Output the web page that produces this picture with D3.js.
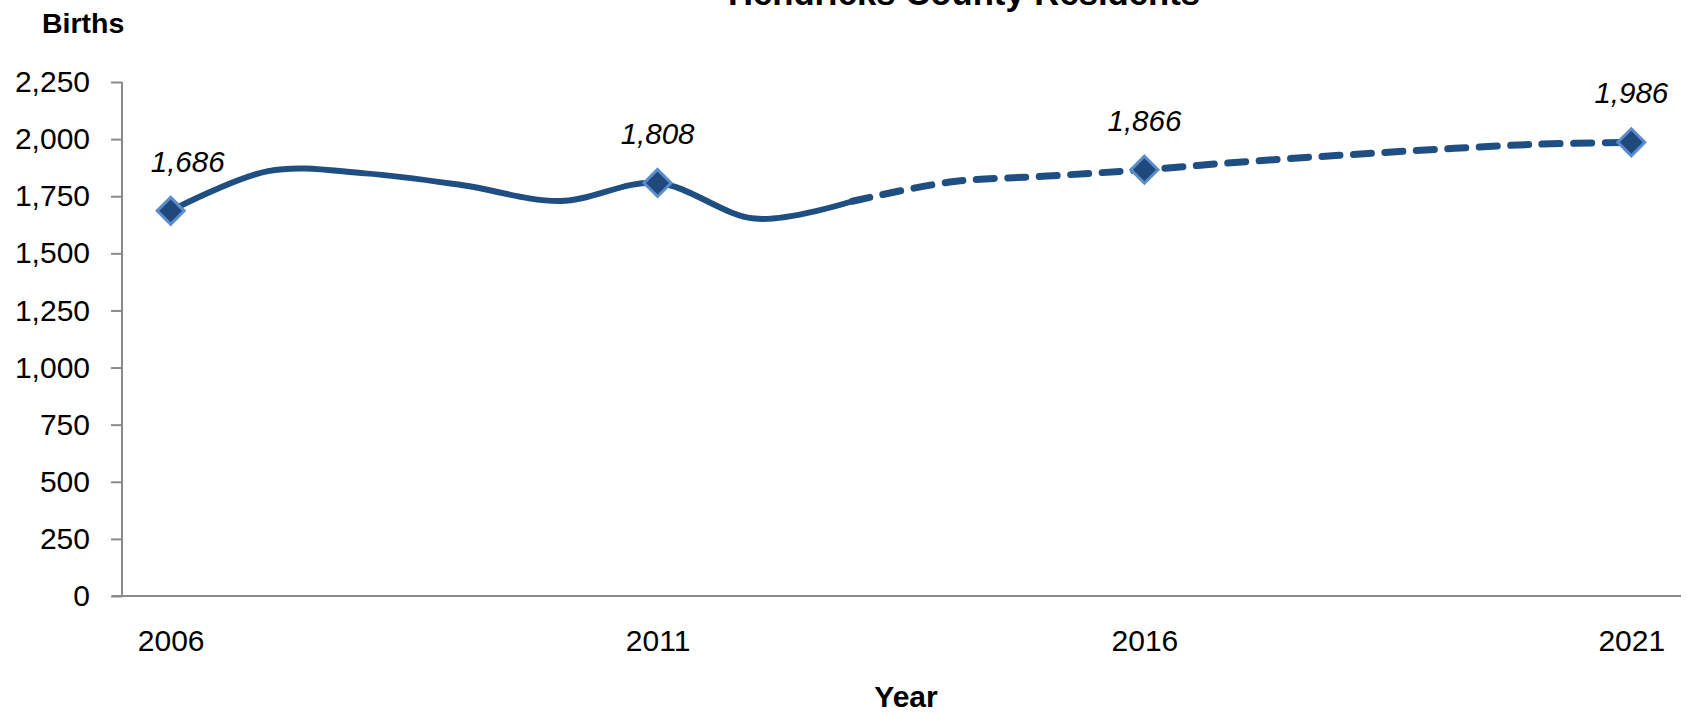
<!DOCTYPE html>
<html>
<head>
<meta charset="utf-8">
<script src="https://cdn.jsdelivr.net/npm/d3@7"></script>
<style>
  html, body { margin: 0; padding: 0; background: #fff; }
  svg { display: block; }
  text { font-family: "Liberation Sans", Arial, sans-serif; fill: #000; }
</style>
</head>
<body>
<svg id="chart" width="1687" height="714"></svg>
<script>
// ---- data ----
const titleText = "Hendricks County Residents";
const yAxisTitle = "Births";
const xAxisTitle = "Year";
const years = ["2006","2007","2008","2009","2010","2011","2012","2013","2014","2015","2016","2017","2018","2019","2020","2021"];
const actualYears = ["2006","2007","2008","2009","2010","2011","2012","2013"];
const actualValues = [1686, 1860, 1850, 1798, 1729, 1808, 1652, 1728];
const projectedYears = ["2013","2014","2015","2016","2017","2018","2019","2020","2021"];
const projectedValues = [1728, 1812, 1838, 1866, 1900, 1929, 1955, 1977, 1986];
const markerYears = ["2006","2011","2016","2021"];
const markerValues = [1686, 1808, 1866, 1986];
const xTickLabels = ["2006","2011","2016","2021"];
const yTickValues = [0, 250, 500, 750, 1000, 1250, 1500, 1750, 2000, 2250];

// ---- layout ----
const svg = d3.select("#chart");
const plotLeft = 122, plotRight = 1680, plotTop = 82, plotBottom = 596;
const lineColor = "#1f4e82";
const markerFill = "#1f497d";
const markerStroke = "#5a8ccc";
const axisColor = "#8a8a8a";

const x = d3.scalePoint().domain(years).range([plotLeft, plotRight]).padding(0.5);
const y = d3.scaleLinear().domain([0, 2250]).range([plotBottom, plotTop]);

// title (mostly cut off at the top, as in the reference)
svg.append("text")
  .attr("x", 964).attr("y", 4.5)
  .attr("text-anchor", "middle")
  .style("font-weight", "bold").style("font-size", "34.7px")
  .text(titleText);

// y axis title
svg.append("text")
  .attr("x", 42).attr("y", 33)
  .style("font-weight", "bold").style("font-size", "28.5px")
  .text(yAxisTitle);

// y axis
const yAxis = d3.axisLeft(y).tickValues(yTickValues).tickSize(11).tickPadding(21).tickFormat(d3.format(","));
const gy = svg.append("g").attr("transform", `translate(${plotLeft},0)`).call(yAxis);
gy.select(".domain").attr("stroke", axisColor).attr("stroke-width", 2).attr("d", `M0,${plotTop}V${plotBottom}`);
gy.selectAll(".tick line").attr("stroke", axisColor).attr("stroke-width", 2);
gy.selectAll(".tick text").style("font-size", "30px").style("font-family", "'Liberation Sans', Arial, sans-serif").attr("fill", "#000");

// x axis
const xAxis = d3.axisBottom(x).tickValues(xTickLabels).tickSize(0).tickPadding(34);
const gx = svg.append("g").attr("transform", `translate(0,${plotBottom})`).call(xAxis);
gx.select(".domain").attr("stroke", axisColor).attr("stroke-width", 2.2).attr("d", `M${plotLeft - 10},0H1681`);
gx.selectAll(".tick text").style("font-size", "30px").style("font-family", "'Liberation Sans', Arial, sans-serif").attr("fill", "#000");

// x axis title
svg.append("text")
  .attr("x", 906).attr("y", 707)
  .attr("text-anchor", "middle")
  .style("font-weight", "bold").style("font-size", "30px")
  .text(xAxisTitle);

// lines
const line = d3.line()
  .x(d => x(d[0]))
  .y(d => y(d[1]))
  .curve(d3.curveCardinal.tension(0));

svg.append("path")
  .datum(projectedYears.map((yr, i) => [yr, projectedValues[i]]))
  .attr("d", line)
  .attr("fill", "none")
  .attr("stroke", lineColor)
  .attr("stroke-width", 7)
  .attr("stroke-linecap", "round")
  .attr("stroke-dasharray", "18,13.5");

svg.append("path")
  .datum(actualYears.map((yr, i) => [yr, actualValues[i]]))
  .attr("d", line)
  .attr("fill", "none")
  .attr("stroke", lineColor)
  .attr("stroke-width", 6)
  .attr("stroke-linecap", "round");

// markers (diamonds)
const r = 13.5;
svg.append("g").selectAll("path")
  .data(markerYears.map((yr, i) => [yr, markerValues[i]]))
  .join("path")
  .attr("d", `M0,${-r}L${r},0L0,${r}L${-r},0Z`)
  .attr("transform", d => `translate(${x(d[0])},${y(d[1])})`)
  .attr("fill", markerFill)
  .attr("stroke", markerStroke)
  .attr("stroke-width", 3)
  .attr("stroke-linejoin", "miter");

// data labels
svg.append("g").selectAll("text")
  .data(markerYears.map((yr, i) => [yr, markerValues[i]]))
  .join("text")
  .attr("x", (d, i) => x(d[0]) + (i === 0 ? 17 : 0))
  .attr("y", d => y(d[1]) - 39)
  .attr("text-anchor", "middle")
  .style("font-style", "italic")
  .style("font-size", "29.5px")
  .text(d => d3.format(",")(d[1]));
</script>
</body>
</html>
